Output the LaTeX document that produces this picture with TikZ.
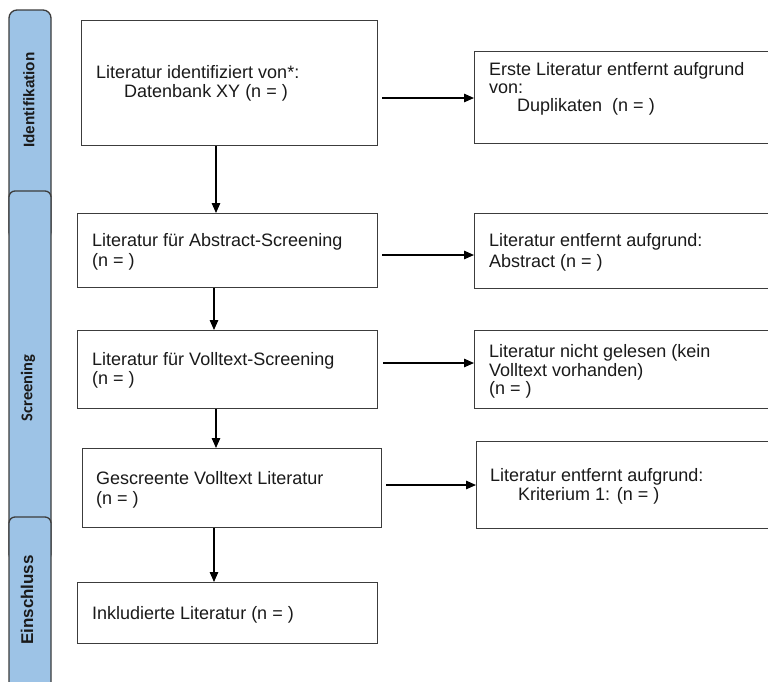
\documentclass[tikz,border=0pt]{standalone}
\usepackage{fontspec}
\setmainfont{Liberation Sans}
\newfontfamily\screenfont{Carlito}
\usetikzlibrary{arrows.meta}
\definecolor{lane}{HTML}{9DC3E6}
\definecolor{edge}{HTML}{3C3C3C}
\definecolor{ink}{HTML}{1A1A1A}

\begin{document}
\begin{tikzpicture}[x=1pt,y=-1pt,
  box/.style={draw=edge, line width=1.3pt, inner sep=0pt, rectangle, anchor=north west},
  txt/.style={anchor=base west, inner sep=0pt, text=ink, font=\fontsize{18}{21}\selectfont},
  arr/.style={draw=black, line width=1.3pt, -{Triangle[length=10pt,width=8.5pt]}},
  lanebox/.style={fill=lane, draw=edge, line width=1.3pt},
  lanelabel/.style={rotate=90, inner sep=0pt, text=ink}
]
\useasboundingbox (0,0) rectangle (768,681);
\fill[white] (0,0) rectangle (768,681);
\clip (0,0) rectangle (768,681);

% phase lanes on the left
\draw[lanebox, rounded corners=8pt] (9,10) rectangle (51,240);
\draw[lanebox, rounded corners=6pt] (9,191) rectangle (51,560);
\draw[lanebox, rounded corners=6pt] (9,517) rectangle (51,720);
\node[lanelabel, font=\bfseries\fontsize{15.3}{18}\selectfont] (lid) at (29,100) {Identifikation};
\node[lanelabel, font=\screenfont\bfseries\fontsize{16.5}{19}\selectfont] (lscr) at (28,388) {Screening};
\node[lanelabel, font=\bfseries\fontsize{17}{20}\selectfont] (lein) at (27,600) {Einschluss};

% main column
\node[box, minimum width=296pt, minimum height=125pt] (b1) at (81,20) {};
\node[box, minimum width=300pt, minimum height=74pt]  (b2) at (77,213) {};
\node[box, minimum width=300pt, minimum height=78pt]  (b3) at (77,330) {};
\node[box, minimum width=299pt, minimum height=79pt]  (b4) at (82,448) {};
\node[box, minimum width=300pt, minimum height=61pt]  (b5) at (77,582) {};

% exclusion column
\node[box, minimum width=320pt, minimum height=92pt] (r1) at (474,51) {};
\node[box, minimum width=320pt, minimum height=75pt] (r2) at (474,213) {};
\node[box, minimum width=320pt, minimum height=78pt] (r3) at (474,330) {};
\node[box, minimum width=320pt, minimum height=87pt] (r4) at (476,441) {};

% texts
\node[txt] (t1a) at (96,78) {Literatur identifiziert von*:};
\node[txt] (t1b) at (124,97) {Datenbank XY (n = )};
\node[txt] (u1a) at (489,75) {Erste Literatur entfernt aufgrund};
\node[txt] (u1b) at (489,93) {von:};
\node[txt] (u1c) at (517,111) {Duplikaten~ (n = )};
\node[txt] (t2a) at (92,246) {Literatur für Abstract-Screening};
\node[txt] (t2b) at (92,266) {(n = )};
\node[txt] (u2a) at (489,246) {Literatur entfernt aufgrund:};
\node[txt] (u2b) at (489,267) {Abstract (n = )};
\node[txt] (t3a) at (92,365) {Literatur für Volltext-Screening};
\node[txt] (t3b) at (92,384) {(n = )};
\node[txt] (u3a) at (489,357) {Literatur nicht gelesen (kein};
\node[txt] (u3b) at (489,376) {Volltext vorhanden)};
\node[txt] (u3c) at (489,394) {(n = )};
\node[txt] (t4a) at (96,484) {Gescreente Volltext Literatur};
\node[txt] (t4b) at (96,504) {(n = )};
\node[txt] (u4a) at (490,481) {Literatur entfernt aufgrund:};
\node[txt] (u4b) at (518,500) {Kriterium 1: (n = )};
\node[txt] (t5a) at (92,619) {Inkludierte Literatur (n = )};

% flow downwards
\draw[arr] (b1.south -| 216,0) -- (b2.north -| 216,0);
\draw[arr] (b2.south -| 214,0) -- (b3.north -| 214,0);
\draw[arr] (b3.south -| 216,0) -- (b4.north -| 216,0);
\draw[arr] (b4.south -| 214,0) -- (b5.north -| 214,0);

% exclusions to the right
\draw[arr, shorten <=4pt] (b1.east |- 0,98) -- (r1.west |- 0,98);
\draw[arr, shorten <=4pt] (b2.east |- 0,255) -- (r2.west |- 0,255);
\draw[arr, shorten <=5pt] (b3.east |- 0,363) -- (r3.west |- 0,363);
\draw[arr, shorten <=4pt] (b4.east |- 0,485) -- (r4.west |- 0,485);
\end{tikzpicture}
\end{document}
